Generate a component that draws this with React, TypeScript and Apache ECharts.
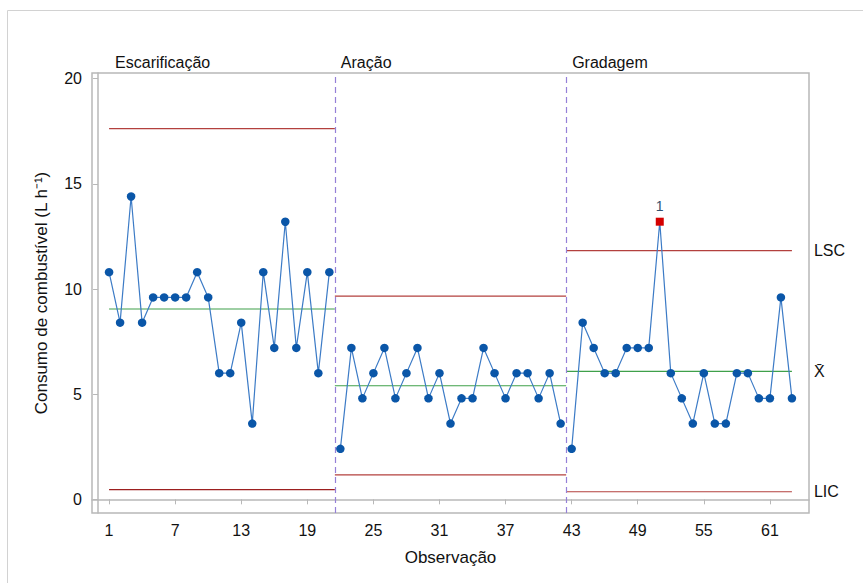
import { useEffect, useRef } from "react";
import * as echarts from "echarts";

const stageNames = ["Escarificação", "Aração", "Gradagem"];
const escValues = [10.8, 8.4, 14.4, 8.4, 9.6, 9.6, 9.6, 9.6, 10.8, 9.6, 6.0, 6.0, 8.4, 3.6, 10.8, 7.2, 13.2, 7.2, 10.8, 6.0, 10.8];
const araValues = [2.4, 7.2, 4.8, 6.0, 7.2, 4.8, 6.0, 7.2, 4.8, 6.0, 3.6, 4.8, 4.8, 7.2, 6.0, 4.8, 6.0, 6.0, 4.8, 6.0, 3.6];
const graValues = [2.4, 8.4, 7.2, 6.0, 6.0, 7.2, 7.2, 7.2, 13.2, 6.0, 4.8, 3.6, 6.0, 3.6, 3.6, 6.0, 6.0, 4.8, 4.8, 9.6, 4.8];
const stageStartObs = [1, 22, 43];
const segStart = [1, 21.5, 42.5];
const segEnd = [21.5, 42.5, 63];
const boundaries = [21.5, 42.5];
const uclValues = [17.63, 9.66, 11.82];
const meanValues = [9.05, 5.4, 6.08];
const lclValues = [0.46, 1.16, 0.36];
const xTicks = [1, 7, 13, 19, 25, 31, 37, 43, 49, 55, 61];
const yTicks = [0, 5, 10, 15, 20];
const flaggedObs = [51];
const limitLabels = ["LSC", "X\u0304", "LIC"];

const FONT = "'Liberation Sans', Arial, sans-serif";
const BLUE = "#0a56a8";
const LINE_BLUE = "#3c7bc6";
const RED = "#b3403e";
const GREEN = "#3fa04a";
const AXIS_GRAY = "#b8b8b8";

export default function App() {
  const ref = useRef<HTMLDivElement>(null);
  useEffect(() => {
    if (!ref.current) return;
    const chart = echarts.init(ref.current, null, { renderer: "svg" });
    const stageValues = [escValues, araValues, graValues];
    const series: any[] = [];

    stageValues.forEach((vals, s) => {
      const data = vals.map((v, i) => {
        const obs = stageStartObs[s] + i;
        if (flaggedObs.includes(obs)) {
          return {
            value: [obs, v],
            symbol: "rect",
            symbolSize: 8,
            itemStyle: { color: "#d40000" },
            label: {
              show: true,
              position: "top",
              distance: 5,
              formatter: "1",
              color: "#34506e",
              fontSize: 14,
              fontFamily: FONT,
            },
          };
        }
        return [obs, v];
      });
      series.push({
        type: "line",
        data,
        symbol: "circle",
        symbolSize: 8.5,
        itemStyle: { color: BLUE },
        lineStyle: { color: LINE_BLUE, width: 1.2 },
        z: 5,
        ...(s === 0
          ? {
              markLine: {
                silent: true,
                symbol: "none",
                label: { show: false },
                lineStyle: { color: "#9580d8", type: [6, 4], width: 1.2 },
                data: boundaries.map((b) => ({ xAxis: b })),
              },
            }
          : {}),
      });

      const limits = [uclValues[s], meanValues[s], lclValues[s]];
      const colors = [RED, GREEN, s === 0 ? "#9c1f1f" : RED];
      limits.forEach((lv, k) => {
        series.push({
          type: "line",
          data: [
            [segStart[s], lv],
            [segEnd[s], lv],
          ],
          symbol: "none",
          lineStyle: { color: colors[k], width: 1.2 },
          z: 3,
          ...(s === 2
            ? {
                endLabel: {
                  show: true,
                  formatter: limitLabels[k],
                  distance: 22,
                  color: "#111",
                  fontSize: 16,
                  fontFamily: FONT,
                },
              }
            : {}),
        });
      });
    });

    chart.setOption({
      animation: false,
      backgroundColor: "#ffffff",
      grid: {
        left: 92,
        top: 73,
        width: 717,
        height: 440,
        show: true,
        borderColor: AXIS_GRAY,
        borderWidth: 1.5,
      },
      xAxis: {
        type: "value",
        min: -0.55,
        max: 64.55,
        name: "Observação",
        nameLocation: "middle",
        nameGap: 36,
        nameTextStyle: { fontSize: 17, color: "#111", fontFamily: FONT },
        axisLine: { show: true, lineStyle: { color: AXIS_GRAY, width: 1.5 } },
        axisTick: { show: true, length: 5, customValues: xTicks, lineStyle: { color: AXIS_GRAY } },
        axisLabel: { customValues: xTicks, fontSize: 16, color: "#111", margin: 9, fontFamily: FONT },
        splitLine: { show: false },
      },
      yAxis: {
        type: "value",
        min: -0.65,
        max: 20.27,
        name: "Consumo de combustível (L h\u207B\u00B9)",
        nameLocation: "middle",
        nameGap: 42,
        nameTextStyle: { fontSize: 17, color: "#111", fontFamily: FONT },
        axisLine: { show: true, lineStyle: { color: AXIS_GRAY, width: 1.5 } },
        axisTick: { show: true, length: 5, customValues: yTicks, lineStyle: { color: AXIS_GRAY } },
        axisLabel: { customValues: yTicks, fontSize: 16, color: "#111", margin: 10, fontFamily: FONT },
        splitLine: { show: false },
      },
      series,
    });

    const labelGraphics = stageNames.map((name, s) => {
      const p = chart.convertToPixel({ gridIndex: 0 }, [segStart[s], 0]);
      return {
        type: "text",
        x: p[0] + 6,
        y: 62,
        style: {
          text: name,
          fontSize: 16,
          fontFamily: FONT,
          fill: "#111",
          verticalAlign: "middle",
        },
      };
    });

    chart.setOption({
      graphic: [
        {
          type: "rect",
          shape: { x: 7.5, y: 10.5, width: 1000, height: 1000 },
          style: { fill: "none", stroke: "#d2d2d2", lineWidth: 1 },
          silent: true,
          z: -1,
        },
        ...labelGraphics,
      ],
    });

    return () => chart.dispose();
  }, []);

  return (
    <div
      ref={ref}
      style={{ position: "absolute", left: 0, top: 0, width: 863, height: 583 }}
    />
  );
}
